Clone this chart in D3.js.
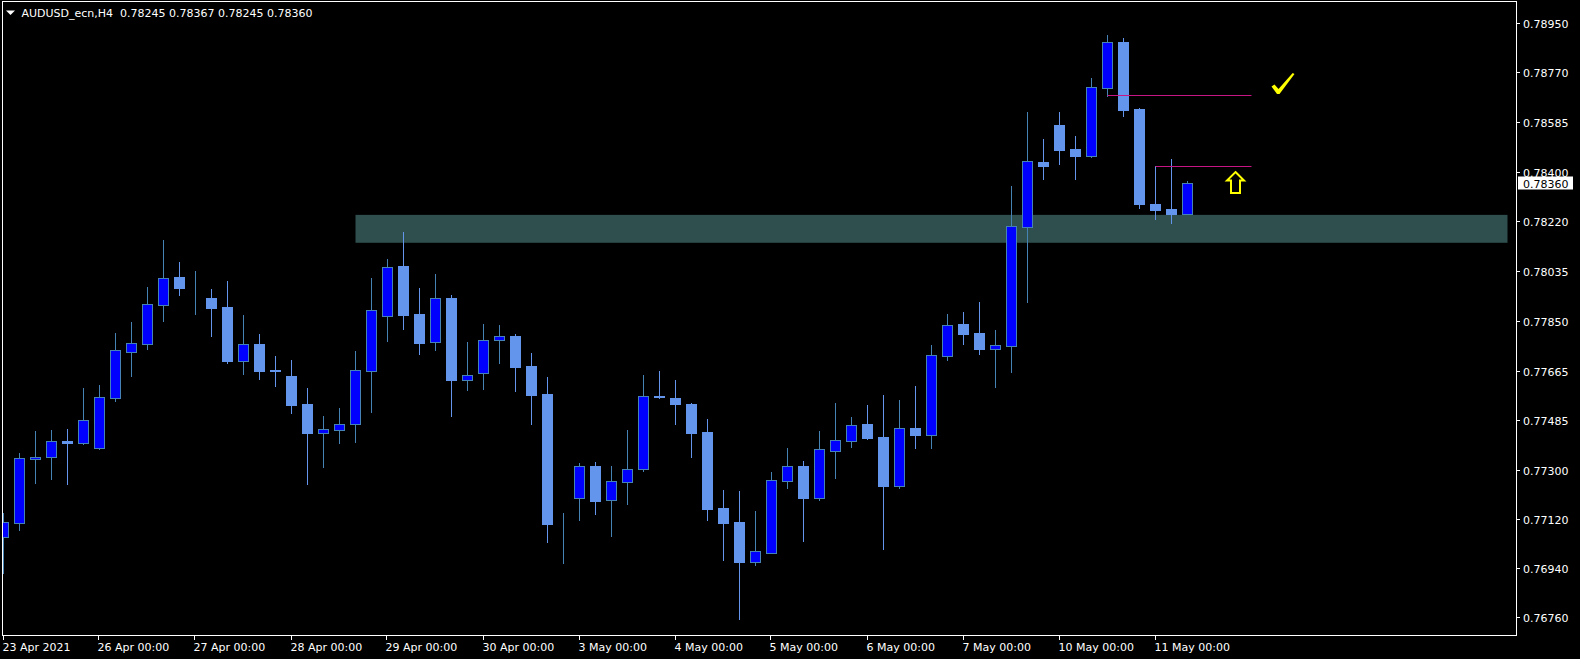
<!DOCTYPE html>
<html><head><meta charset="utf-8">
<script src="https://cdn.jsdelivr.net/npm/d3@7"></script>
<style>html,body{margin:0;padding:0;background:#000;overflow:hidden}svg{display:block}</style>
</head><body><svg id="c" width="1580" height="659"></svg>
<script>
// ---- data (AUDUSD_ecn H4, 23 Apr 2021 00:00 .. 11 May 2021 08:00) ----
const symbolTitle = "AUDUSD_ecn,H4";
const titleValues = ["0.78245", "0.78367", "0.78245", "0.78360"];

const open = [.77053,.77107,.77343,.77351,.77408,.77402,.77384,.77568,.77738,.77768,
.77912,.78014,.77932,.77936,.77903,.77705,.77766,.77671,.77648,.77545,
.77439,.77450,.77472,.77668,.77871,.78054,.77877,.77775,.77936,.77635,
.77661,.77782,.77796,.77685,.77582,.77106,.77199,.77316,.77190,.77258,
.77306,.77575,.77567,.77545,.77442,.77161,.77110,.76963,.76996,.77262,
.77316,.77199,.77373,.77410,.77471,.77423,.77244,.77456,.77432,.77723,
.77840,.77807,.77749,.77760,.78199,.78438,.78575,.78486,.78461,.78712,
.78881,.78634,.78283,.78265,.78245];
const high = [.77142,.77363,.77445,.77449,.77453,.77604,.77615,.77807,.77848,.77977,
.78150,.78069,.78036,.77969,.77999,.77874,.77803,.77722,.77707,.77604,
.77501,.77530,.77741,.78010,.78080,.78180,.77973,.78025,.77947,.77774,
.77840,.77837,.77803,.77733,.77645,.77143,.77327,.77331,.77316,.77449,
.77652,.77667,.77634,.77549,.77490,.77228,.77224,.77150,.77294,.77383,
.77335,.77445,.77549,.77497,.77541,.77578,.77560,.77611,.77763,.77877,
.77885,.77921,.77818,.78350,.78623,.78523,.78623,.78534,.78748,.78907,
.78896,.78637,.78423,.78449,.78367];
const low = [.76920,.77080,.77255,.77268,.77250,.77397,.77379,.77556,.77649,.77748,
.77852,.77947,.77878,.77796,.77697,.77656,.77637,.77611,.77512,.77250,
.77313,.77401,.77405,.77516,.77778,.77822,.77730,.77744,.77502,.77597,
.77600,.77697,.77593,.77471,.77036,.76958,.77117,.77139,.77058,.77176,
.77298,.77567,.77471,.77349,.77117,.76969,.76750,.76951,.76995,.77235,
.77039,.77191,.77272,.77386,.77416,.77010,.77235,.77383,.77383,.77707,
.77766,.77730,.77608,.77663,.77921,.78375,.78431,.78375,.78457,.78682,
.78608,.78268,.78228,.78213,.78245];
const close = [.77111,.77345,.77351,.77407,.77402,.77485,.77570,.77743,.77769,.77913,
.78009,.77973,.77932,.77899,.77704,.77765,.77667,.77668,.77541,.77438,
.77452,.77470,.77669,.77891,.78050,.77874,.77771,.77935,.77635,.77651,
.77780,.77795,.77682,.77578,.77102,.77106,.77315,.77188,.77260,.77304,
.77573,.77572,.77545,.77438,.77158,.77106,.76962,.77001,.77263,.77315,
.77198,.77378,.77411,.77466,.77420,.77242,.77455,.77431,.77725,.77836,
.77804,.77748,.77762,.78201,.78441,.78425,.78482,.78460,.78714,.78880,
.78630,.78283,.78261,.78246,.78360];

// time axis: bar index of each label
const timeTickBars = [0, 6, 12, 18, 24, 30, 36, 42, 48, 54, 60, 66, 72];
const timeTickLabels = ["23 Apr 2021","26 Apr 00:00","27 Apr 00:00","28 Apr 00:00","29 Apr 00:00",
  "30 Apr 00:00","3 May 00:00","4 May 00:00","5 May 00:00","6 May 00:00","7 May 00:00",
  "10 May 00:00","11 May 00:00"];
// price axis tick labels
const priceTicks = [0.78950,0.78770,0.78585,0.78400,0.78220,0.78035,0.77850,0.77665,
  0.77485,0.77300,0.77120,0.76940,0.76760];
const lastPrice = 0.78360;

// drawn objects
const zoneBars = [22, 94];
const zonePrices = [0.78243, 0.78140];
const levelFromBar = [69, 72];
const levelToBar = [78, 78];
const levelPrice = [0.78684, 0.78423];
const checkMark = {bar: 80, price: 0.78726};
const arrowUp = {bar: 77, top: 0.78401, bottom: 0.78324};

// ---- drawing ----
const svg = d3.select("#c");
const FONT = "DejaVu Sans, Verdana, sans-serif";
const BULL_FILL = "#0000FF", BULL_LINE = "#4682B4";
const BEAR_FILL = "#6495ED", BEAR_LINE = "#6495ED";

const x = d3.scaleLinear().domain([0, 94]).range([3.5, 1507.5]);
const y = d3.scaleLinear().domain([0.76760, 0.78950]).range([616.7, 23.3]);
const py = v => Math.round(y(v)) + 0.5;

svg.append("rect").attr("width", 1580).attr("height", 659).attr("fill", "#000");

svg.append("defs").append("clipPath").attr("id", "plot")
  .append("rect").attr("x", 3).attr("y", 2).attr("width", 1513).attr("height", 633);

const g = svg.append("g").attr("clip-path", "url(#plot)");

// support zone
g.append("rect")
  .attr("x", x(zoneBars[0])).attr("y", y(zonePrices[0]))
  .attr("width", x(zoneBars[1]) - x(zoneBars[0]))
  .attr("height", y(zonePrices[1]) - y(zonePrices[0]))
  .attr("fill", "#2F4F4F");

const bars = d3.range(open.length).map(i => ({
  i, o: open[i], h: high[i], l: low[i], c: close[i], up: close[i] >= open[i]
}));

// wicks
g.selectAll("line.wick").data(bars).join("line").attr("class", "wick")
  .attr("x1", d => x(d.i)).attr("x2", d => x(d.i))
  .attr("y1", d => Math.round(y(d.h))).attr("y2", d => Math.round(y(d.l)) + 1)
  .attr("stroke", d => d.up ? BULL_LINE : BEAR_LINE).attr("stroke-width", 1);

// bodies
g.selectAll("rect.body").data(bars).join("rect").attr("class", "body")
  .attr("x", d => x(d.i) - 5)
  .attr("y", d => Math.min(py(d.o), py(d.c)))
  .attr("width", 10)
  .attr("height", d => Math.abs(py(d.o) - py(d.c)))
  .attr("fill", d => d.up ? BULL_FILL : BEAR_FILL)
  .attr("stroke", d => d.up ? BULL_LINE : BEAR_LINE)
  .attr("stroke-width", 1);

// horizontal levels
levelPrice.forEach((p, k) => {
  g.append("line")
    .attr("x1", x(levelFromBar[k])).attr("x2", x(levelToBar[k]))
    .attr("y1", py(p)).attr("y2", py(p))
    .attr("stroke", "#C71585").attr("stroke-width", 1);
});

// check mark
{
  const cx = x(checkMark.bar), cy = y(checkMark.price);
  const pts = [[-12, 2.5], [-9, 0.5], [-5, 5], [9.2, -11], [11, -10], [-4, 10], [-6.5, 10]];
  g.append("path")
    .attr("d", "M" + pts.map(p => [cx + p[0], cy + p[1]].join(",")).join("L") + "Z")
    .attr("fill", "#FFFF00");
}
// up arrow
{
  const cx = x(arrowUp.bar), t = y(arrowUp.top), b = y(arrowUp.bottom);
  const hb = t + 8.5;
  const d = `M${cx},${t} L${cx + 8.5},${hb} L${cx + 4.5},${hb} L${cx + 4.5},${b} L${cx - 4.5},${b} L${cx - 4.5},${hb} L${cx - 8.5},${hb} Z`;
  g.append("path").attr("d", d).attr("fill", "none")
    .attr("stroke", "#FFFF00").attr("stroke-width", 2).attr("stroke-linejoin", "miter");
}

// frame
svg.append("rect").attr("x", 2.5).attr("y", 1.5).attr("width", 1514).attr("height", 634)
  .attr("fill", "none").attr("stroke", "#FFFFFF").attr("stroke-width", 1);

// price axis
const yAxis = svg.append("g");
priceTicks.forEach(v => {
  const yy = Math.round(y(v)) + 0.5;
  yAxis.append("line").attr("x1", 1517).attr("x2", 1520).attr("y1", yy).attr("y2", yy)
    .attr("stroke", "#FFFFFF");
  yAxis.append("text").attr("x", 1523).attr("y", yy + 4)
    .attr("fill", "#FFFFFF").attr("font-family", FONT).attr("font-size", "11px")
    .text(v.toFixed(5));
});
// last price label
{
  const yy = y(lastPrice);
  yAxis.append("rect").attr("x", 1518).attr("y", Math.round(yy) - 6.5)
    .attr("width", 55).attr("height", 13).attr("fill", "#FFFFFF");
  yAxis.append("text").attr("x", 1523).attr("y", Math.round(yy) + 4.5)
    .attr("fill", "#000000").attr("font-family", FONT).attr("font-size", "11px")
    .text(lastPrice.toFixed(5));
}

// time axis
const xAxis = svg.append("g");
timeTickBars.forEach((b, k) => {
  const xx = Math.round(x(b)) - 0.5;
  xAxis.append("line").attr("x1", xx).attr("x2", xx).attr("y1", 636).attr("y2", 640)
    .attr("stroke", "#FFFFFF");
  xAxis.append("text").attr("x", xx - 1).attr("y", 651)
    .attr("fill", "#FFFFFF").attr("font-family", FONT).attr("font-size", "11px")
    .text(timeTickLabels[k]);
});

// title
svg.append("path").attr("d", "M6,10.5 L15,10.5 L10.5,15 Z").attr("fill", "#FFFFFF");
svg.append("text").attr("x", 21.5).attr("y", 17)
  .attr("fill", "#FFFFFF").attr("font-family", FONT).attr("font-size", "11px")
  .attr("xml:space", "preserve")
  .text(symbolTitle + "  " + titleValues.join(" "));
</script>
</body></html>
